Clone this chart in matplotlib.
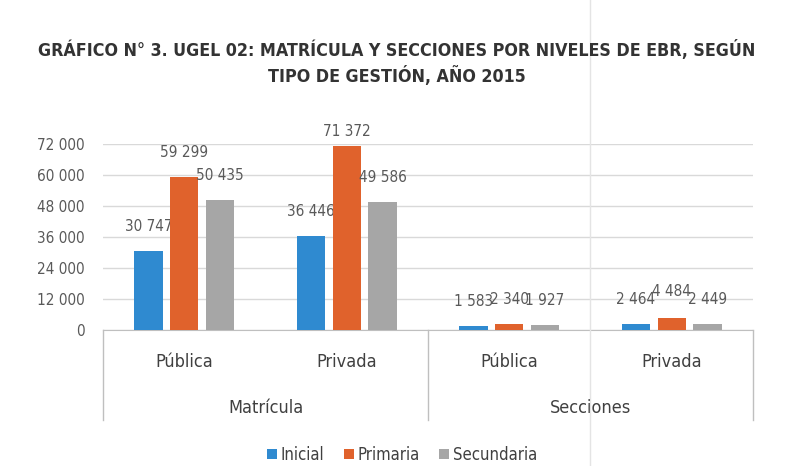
import matplotlib.pyplot as plt
from matplotlib.lines import Line2D
from matplotlib.ticker import FuncFormatter
import numpy as np

# data
groups = ['Matrícula', 'Secciones']
tipos = ['Pública', 'Privada', 'Pública', 'Privada']
niveles = ['Inicial', 'Primaria', 'Secundaria']
inicial = [30747, 36446, 1583, 2464]
primaria = [59299, 71372, 2340, 4484]
secundaria = [50435, 49586, 1927, 2449]
yticks = [0, 12000, 24000, 36000, 48000, 60000, 72000]

colors = ['#2f8ad0', '#e0622c', '#a6a6a6']
plt.rcParams['font.family'] = ['DejaVu Sans']
plt.rcParams['font.stretch'] = 'condensed'

W, H = 794, 466
fig = plt.figure(figsize=(W / 100, H / 100), dpi=100)
fig.patch.set_facecolor('white')

def fx(px):
    return px / W

def fy(py):
    return 1 - py / H

ax = fig.add_axes([fx(103), fy(330), fx(753) - fx(103), fy(144) - fy(330)])

x = np.arange(len(tipos))
width = 0.175
step = 0.22

def fmt(v):
    return '{:,}'.format(int(v)).replace(',', ' ')

for i, (vals, c) in enumerate(zip([inicial, primaria, secundaria], colors)):
    pos = x + (i - 1) * step
    ax.bar(pos, vals, width, color=c, label=niveles[i], zorder=3)
    for px_, v in zip(pos, vals):
        off = 5 if v > 70000 else 12
        if v == 4484:
            off = 14
        ax.annotate(fmt(v), (px_, v), xytext=(0, off), textcoords='offset points',
                    ha='center', va='bottom', fontsize=11, color='#595959')

ax.set_xlim(-0.5, 3.5)
ax.set_ylim(0, 72000)
ax.set_yticks(yticks)
ax.yaxis.set_major_formatter(FuncFormatter(lambda v, p: fmt(v)))
ax.tick_params(axis='y', length=0, pad=13, labelsize=11, labelcolor='#595959')
ax.set_xticks([])
ax.grid(axis='y', color='#d9d9d9', linewidth=1, zorder=0)
for s in ['top', 'right', 'left']:
    ax.spines[s].set_visible(False)
ax.spines['bottom'].set_color('#bfbfbf')

# category labels
for i, t in enumerate(tipos):
    ax.text(i, -0.17, t, transform=ax.get_xaxis_transform(), ha='center', va='center',
            fontsize=13, color='#404040')
for i, g in enumerate(groups):
    ax.text(0.5 + 2 * i, -0.42, g, transform=ax.get_xaxis_transform(), ha='center',
            va='center', fontsize=13, color='#404040')

# separators of the category axis
for px_ in [103, 428, 753]:
    fig.add_artist(Line2D([fx(px_), fx(px_)], [fy(330), fy(420)], color='#bfbfbf', lw=1))
# faint fold line of the scanned page
fig.add_artist(Line2D([fx(590), fx(590)], [0, 1], color='#e4e4e4', lw=1))

fig.text(0.5, fy(50), 'GRÁFICO N° 3. UGEL 02: MATRÍCULA Y SECCIONES POR NIVELES DE EBR, SEGÚN',
         ha='center', va='center', fontsize=12.8, fontweight='bold', color='#333333')
fig.text(0.5, fy(76), 'TIPO DE GESTIÓN, AÑO 2015',
         ha='center', va='center', fontsize=12.8, fontweight='bold', color='#333333')

fig.legend(loc='center', bbox_to_anchor=(fx(402), fy(455)), ncol=3, frameon=False,
           fontsize=12, handlelength=0.6, handleheight=0.6, handletextpad=0.2,
           columnspacing=1.2, labelcolor='#404040')

fig.savefig('out.png', dpi=100)
